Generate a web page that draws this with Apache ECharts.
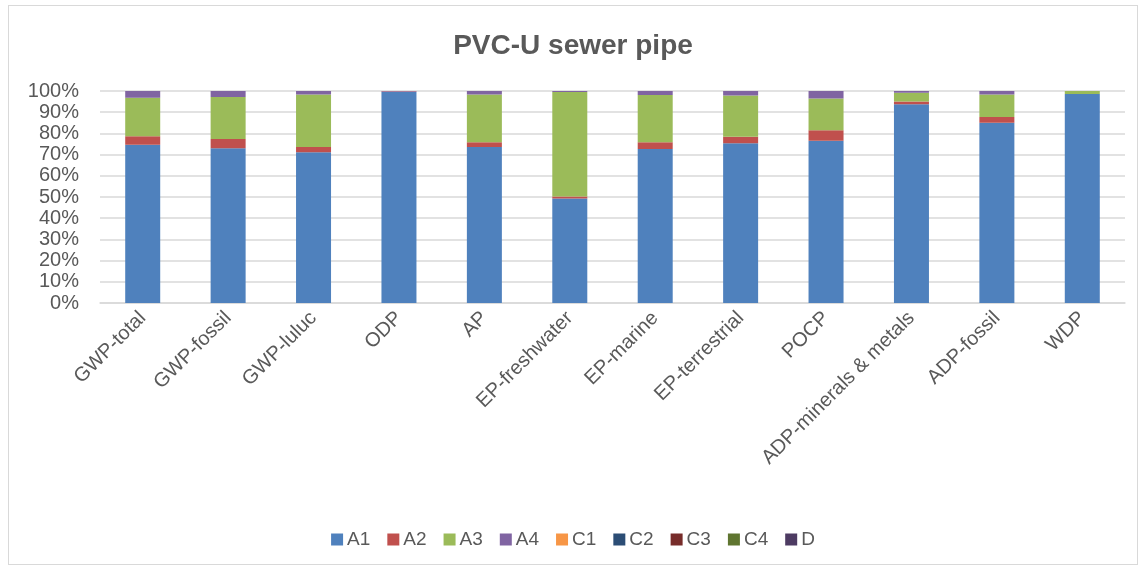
<!DOCTYPE html>
<html>
<head>
<meta charset="utf-8">
<script src="https://cdn.jsdelivr.net/npm/echarts@6/dist/echarts.min.js"></script>
<style>
html,body{margin:0;padding:0;background:#fff;}
#wrap{position:absolute;left:8px;top:5px;width:1130px;height:560px;border:1px solid #d9d9d9;box-sizing:border-box;}
#chart{position:absolute;left:0;top:0;width:1146px;height:569px;}
</style>
</head>
<body>
<div id="wrap"></div>
<div id="chart"></div>
<script>
const categories = ['GWP-total','GWP-fossil','GWP-luluc','ODP','AP','EP-freshwater','EP-marine','EP-terrestrial','POCP','ADP-minerals & metals','ADP-fossil','WDP'];
const seriesNames = ['A1','A2','A3','A4','C1','C2','C3','C4','D'];
const A1 = [74.6, 73.0, 71.1, 99.5, 73.6, 49.3, 72.7, 75.4, 76.5, 93.7, 85.0, 98.6];
const A2 = [4.1, 4.3, 2.5, 0.3, 2.2, 0.9, 3.1, 3.0, 5.0, 1.4, 2.7, 0.0];
const A3 = [18.1, 19.9, 24.8, 0.0, 22.6, 49.3, 22.3, 19.5, 15.0, 4.1, 10.6, 1.4];
const A4 = [3.2, 2.8, 1.6, 0.2, 1.6, 0.5, 1.9, 2.1, 3.5, 0.8, 1.7, 0.0];
const C1 = [0,0,0,0,0,0,0,0,0,0,0,0];
const C2 = [0,0,0,0,0,0,0,0,0,0,0,0];
const C3 = [0,0,0,0,0,0,0,0,0,0,0,0];
const C4 = [0,0,0,0,0,0,0,0,0,0,0,0];
const D  = [0,0,0,0,0,0,0,0,0,0,0,0];
const yTicks = [0,10,20,30,40,50,60,70,80,90,100];

const colors = ['#4F81BD','#C0504D','#9BBB59','#8064A2','#F79646','#2C4D75','#772C2A','#5F7530','#4D3B62'];
const values = [A1,A2,A3,A4,C1,C2,C3,C4,D];
const FONT = 'Liberation Sans, Arial, sans-serif';

const chart = echarts.init(document.getElementById('chart'));
chart.setOption({
  animation:false,
  title:{text:'PVC-U sewer pipe',left:'center',top:27,textStyle:{fontFamily:FONT,fontSize:28,fontWeight:'bold',color:'#595959'}},
  color:colors,
  legend:{top:525,left:'center',itemWidth:12,itemHeight:12,itemGap:17,icon:'rect',
    textStyle:{fontFamily:FONT,fontSize:19,color:'#595959',padding:[0,0,0,-1]},
    data:seriesNames},
  grid:{left:100,right:21,top:91,bottom:266,containLabel:false},
  xAxis:{type:'category',data:categories,
    axisLine:{lineStyle:{color:'#d9d9d9',width:1.5}},axisTick:{show:false},
    axisLabel:{rotate:45,interval:0,fontFamily:FONT,fontSize:20,color:'#595959',margin:12}},
  yAxis:{type:'value',min:0,max:100,interval:10,
    axisLabel:{formatter:v=>v+'%',fontFamily:FONT,fontSize:20,color:'#595959',margin:21},
    axisLine:{show:false},axisTick:{show:false},
    splitLine:{lineStyle:{color:'#d9d9d9',width:1.5}}},
  series:seriesNames.map((n,i)=>({name:n,type:'bar',stack:'total',barWidth:35,data:values[i],
    itemStyle:{color:colors[i]}}))
});
</script>
</body>
</html>
